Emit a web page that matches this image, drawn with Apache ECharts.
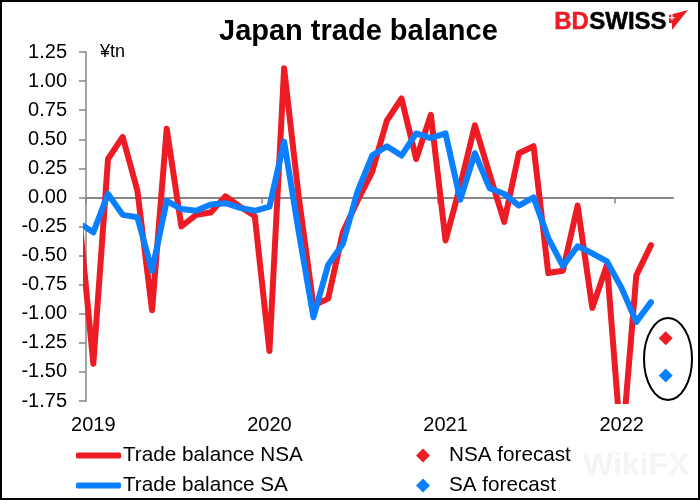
<!DOCTYPE html>
<html>
<head>
<meta charset="utf-8">
<style>
  html, body { margin: 0; padding: 0; background: #fff; }
  #main { width: 700px; height: 500px; }
  #frame { position: absolute; left: 0; top: 0; width: 700px; height: 500px; box-sizing: border-box; border: 2px solid #000; pointer-events: none; }
</style>
<script src="https://cdn.jsdelivr.net/npm/echarts@6/dist/echarts.min.js"></script>
</head>
<body>
<div id="main"></div>
<div id="frame"></div>
<script>
// monthly, Dec 2018 sits just off the left edge of the plot
const months = [
  '2018-12',
  '2019-01','2019-02','2019-03','2019-04','2019-05','2019-06','2019-07','2019-08','2019-09','2019-10','2019-11','2019-12',
  '2020-01','2020-02','2020-03','2020-04','2020-05','2020-06','2020-07','2020-08','2020-09','2020-10','2020-11','2020-12',
  '2021-01','2021-02','2021-03','2021-04','2021-05','2021-06','2021-07','2021-08','2021-09','2021-10','2021-11','2021-12',
  '2022-01','2022-02','2022-03','2022-04'
];
const nsaValues = [
  -0.12,
  -1.43,0.33,0.52,0.06,-0.97,0.59,-0.25,-0.15,-0.13,0.01,-0.08,-0.16,
  -1.32,1.11,0.00,-0.93,-0.87,-0.30,-0.03,0.22,0.66,0.85,0.33,0.71,
  -0.37,0.10,0.62,0.20,-0.21,0.38,0.44,-0.65,-0.63,-0.07,-0.95,-0.58,
  -2.19,-0.67,-0.41,null
];
const saValues = [
  -0.22,
  -0.30,0.03,-0.15,-0.17,-0.63,-0.03,-0.10,-0.115,-0.06,-0.05,-0.09,-0.115,
  -0.08,0.48,-0.30,-1.03,-0.58,-0.40,0.05,0.36,0.44,0.36,0.55,0.51,
  0.55,-0.02,0.38,0.08,0.03,-0.07,0.00,-0.35,-0.59,-0.42,-0.48,-0.55,
  -0.78,-1.07,-0.90,null
];
const forecastMonth = '2022-04';
const nsaForecast = -1.21;
const saForecast = -1.53;
const yearTicks = [0, 12, 24, 36];

const RED = '#ED1C24', BLUE = '#0A7FFF', AXIS = '#868686';
const FONT = '"Liberation Sans", Arial, sans-serif';

// x position is months since Jan 2019 band start, points sit mid band
const xOf = (m) => months.indexOf(m) - 0.5;
const toPairs = (vals) => months.map((m, i) => [xOf(m), vals[i]]);

const chart = echarts.init(document.getElementById('main'), null, { renderer: 'canvas' });
chart.setOption({
  animation: false,
  backgroundColor: '#fff',
  textStyle: { fontFamily: FONT },
  title: {
    text: 'Japan trade balance',
    left: 214, top: 12,
    textStyle: { fontFamily: FONT, fontSize: 29, fontWeight: 'bold', color: '#000' }
  },
  grid: { left: 86, right: 27, top: 52, bottom: 99 },
  legend: [
    {
      orient: 'vertical', left: 76, top: 445, height: 54, padding: 0, itemWidth: 45, itemHeight: 6, itemGap: 9,
      textStyle: { fontFamily: FONT, fontSize: 20.7, lineHeight: 21, color: '#000', padding: [0, 0, 0, -3] },
      data: [
        { name: 'Trade balance NSA', icon: 'roundRect' },
        { name: 'Trade balance SA', icon: 'roundRect' }
      ]
    },
    {
      orient: 'vertical', left: 416, top: 445, height: 54, padding: 0, itemWidth: 14, itemHeight: 14, itemGap: 9,
      textStyle: { fontFamily: FONT, fontSize: 20.7, lineHeight: 21, color: '#000', padding: [0, 0, 0, 14] },
      data: [
        { name: 'NSA forecast', icon: 'diamond' },
        { name: 'SA forecast', icon: 'diamond' }
      ]
    }
  ],
  xAxis: [
    {
      // zero line and year ticks
      type: 'value', min: 0, max: 40,
      splitLine: { show: false },
      axisLine: { onZero: true, lineStyle: { color: AXIS, width: 2 } },
      axisTick: { show: true, customValues: yearTicks, length: 6, lineStyle: { color: AXIS, width: 1.5 } },
      axisLabel: { show: false }
    },
    {
      // year labels, down at the bottom of the plot
      type: 'category', position: 'bottom',
      data: months.slice(1),
      axisLine: { show: false, onZero: false },
      axisTick: { show: false },
      axisLabel: {
        interval: (i) => i % 12 === 0,
        formatter: (v) => v.slice(0, 4),
        margin: 14,
        fontFamily: FONT, fontSize: 20, color: '#000'
      }
    }
  ],
  yAxis: {
    type: 'value', min: -1.75, max: 1.25, interval: 0.25,
    splitLine: { show: false },
    axisLine: { show: true, onZero: false, lineStyle: { color: AXIS, width: 1.5 } },
    axisTick: { show: true, length: 7, lineStyle: { color: AXIS, width: 1.5 } },
    axisLabel: {
      formatter: (v) => v.toFixed(2),
      margin: 19,
      fontFamily: FONT, fontSize: 20, color: '#000'
    }
  },
  series: [
    {
      name: 'Trade balance NSA', type: 'line', xAxisIndex: 0,
      data: toPairs(nsaValues), symbol: 'none', connectNulls: false,
      color: RED,
      lineStyle: { color: RED, width: 6, cap: 'round', join: 'round' }
    },
    {
      name: 'Trade balance SA', type: 'line', xAxisIndex: 0,
      data: toPairs(saValues), symbol: 'none', connectNulls: false,
      color: BLUE,
      lineStyle: { color: BLUE, width: 6, cap: 'round', join: 'round' }
    },
    {
      name: 'NSA forecast', type: 'scatter', xAxisIndex: 0,
      data: [[xOf(forecastMonth), nsaForecast]],
      symbol: 'diamond', symbolSize: 14, itemStyle: { color: RED, opacity: 1 }
    },
    {
      name: 'SA forecast', type: 'scatter', xAxisIndex: 0,
      data: [[xOf(forecastMonth), saForecast]],
      symbol: 'diamond', symbolSize: 14, itemStyle: { color: BLUE, opacity: 1 }
    }
  ],
  graphic: [
    { type: 'text', left: 100, top: 43, style: { text: '¥tn', font: '18px ' + FONT, fill: '#000' } },
    // forecast ring
    { type: 'ellipse', shape: { cx: 668, cy: 359, rx: 24, ry: 41 }, style: { fill: 'none', stroke: '#000', lineWidth: 2 } },
    // logo
    { type: 'text', left: 554, top: 10, style: { text: 'BD', font: 'bold 24px ' + FONT, fill: RED, stroke: RED, lineWidth: 0.5 } },
    { type: 'text', left: 589, top: 10, style: { text: 'SWISS', font: 'bold 24px ' + FONT, fill: '#000', stroke: '#000', lineWidth: 0.5 } },
    { type: 'polygon', shape: { points: [[669, 15], [688, 10], [672, 30], [672, 23], [669, 23]] }, style: { fill: RED } },
    { type: 'text', left: 669, top: 13, style: { text: '+', font: 'bold 10px ' + FONT, fill: '#fff' } },
    // watermark
    { type: 'text', left: 583, top: 450, style: { text: 'WikiFX', font: 'bold 32px ' + FONT, fill: '#f4f4f4' } }
  ]
});
</script>
</body>
</html>
